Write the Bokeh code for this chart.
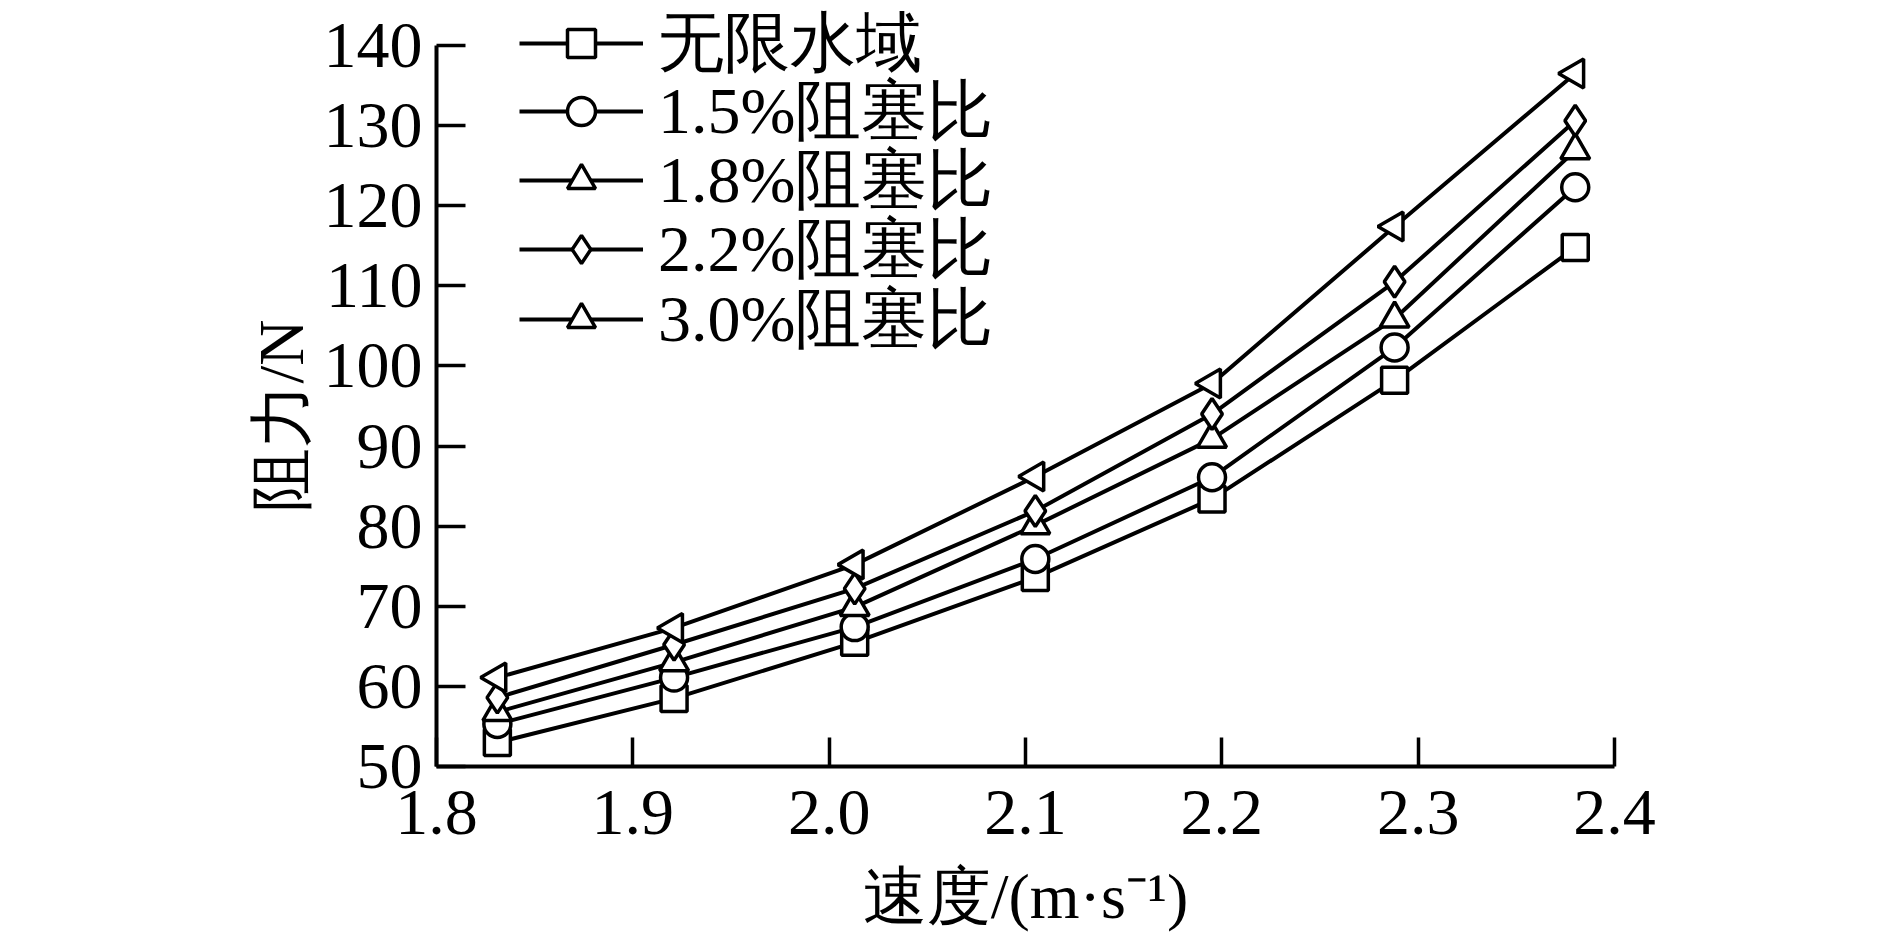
import math
from bokeh.plotting import figure
from bokeh.models import FixedTicker, Legend, LegendItem, Range1d
from bokeh.embed import file_html
from bokeh.resources import INLINE

# ---- data ----
speed = [1.831, 1.921, 2.013, 2.105, 2.195, 2.288, 2.380]
series_names = ["无限水域", "1.5%阻塞比", "1.8%阻塞比", "2.2%阻塞比", "3.0%阻塞比"]
unlimited = [53.0, 58.5, 65.5, 73.6, 83.4, 98.2, 114.8]
block_15 = [55.3, 61.1, 67.4, 75.9, 86.1, 102.3, 122.3]
block_18 = [56.8, 63.0, 69.9, 80.1, 90.9, 105.9, 126.9]
block_22 = [58.6, 65.2, 72.2, 81.9, 94.0, 110.5, 130.6]
block_30 = [61.1, 67.3, 75.2, 86.2, 97.8, 117.4, 136.5]
x_ticks = [1.8, 1.9, 2.0, 2.1, 2.2, 2.3, 2.4]
x_tick_labels = ["1.8", "1.9", "2.0", "2.1", "2.2", "2.3", "2.4"]
y_ticks = [50, 60, 70, 80, 90, 100, 110, 120, 130, 140]
y_min, y_max = 50, 140

FONT = "Liberation Serif"

# layout geometry (page pixels)
FRAME_BOTTOM = 766
Y_TOP_PX = 45          # where the 140 tick sits
px_per_unit = (FRAME_BOTTOM - Y_TOP_PX) / (y_max - y_min)
y_range_top = y_max + Y_TOP_PX / px_per_unit   # frame reaches the top edge so the legend fits

p = figure(width=1889, height=939, output_backend="svg", toolbar_location=None,
           x_range=Range1d(1.8, 2.4), y_range=Range1d(y_min, y_range_top),
           min_border_left=436, min_border_right=275,
           min_border_top=0, min_border_bottom=939 - FRAME_BOTTOM)
p.outline_line_color = None
p.grid.visible = False
p.background_fill_color = "white"
p.border_fill_color = "white"

styles = [("square", 26, 0.0), ("circle", 27, 0.0), ("triangle", 29, 0.0),
          ("diamond", 31, 0.0), ("triangle", 29, math.pi / 2)]
all_series = [unlimited, block_15, block_18, block_22, block_30]

# one single-item legend per row, so that the row pitch matches the reference
row_centers = [40, 108, 177, 246, 316]   # page pixels of the legend rows
ITEM_HALF = 48                            # measured half height of a legend row
for name, ys, (mk, sz, ang), cy in zip(series_names, all_series, styles, row_centers):
    ln = p.line(speed, ys, line_color="black", line_width=4)
    sc = p.scatter(speed, ys, marker=mk, size=sz, angle=ang,
                   fill_color="white", line_color="black", line_width=3.5)
    leg = Legend(items=[LegendItem(label=name, renderers=[ln, sc])],
                 location=(83, FRAME_BOTTOM - cy - ITEM_HALF))
    leg.label_text_font = FONT
    leg.label_text_font_size = "66px"
    leg.label_text_color = "black"
    leg.glyph_width = 124
    leg.glyph_height = 70
    leg.label_height = 70
    leg.label_standoff = 15
    leg.spacing = 0
    leg.padding = 0
    leg.margin = 0
    leg.border_line_alpha = 0
    leg.background_fill_alpha = 0
    p.add_layout(leg)

for ax in (p.xaxis[0], p.yaxis[0]):
    ax.axis_line_width = 4
    ax.axis_line_color = "black"
    ax.major_tick_line_width = 3.5
    ax.major_tick_line_color = "black"
    ax.major_tick_in = 29
    ax.major_tick_out = 0
    ax.minor_tick_in = 0
    ax.minor_tick_out = 0
    ax.minor_tick_line_color = None
    ax.major_label_text_font = FONT
    ax.major_label_text_font_size = "66px"
    ax.major_label_text_color = "black"
    ax.axis_label_text_font = FONT
    ax.axis_label_text_font_size = "64px"
    ax.axis_label_text_font_style = "normal"
    ax.axis_label_text_color = "black"

p.xaxis[0].ticker = FixedTicker(ticks=x_ticks)
p.xaxis[0].major_label_overrides = dict(zip(x_ticks, x_tick_labels))
p.xaxis[0].major_label_standoff = 24
p.xaxis[0].axis_label = "速度/(m·s⁻¹)"
p.xaxis[0].axis_label_standoff = 24

p.yaxis[0].ticker = FixedTicker(ticks=y_ticks)
p.yaxis[0].bounds = (y_min, y_max)
p.yaxis[0].major_label_standoff = 14
# trailing em space nudges the rotated title down, as in the reference
p.yaxis[0].axis_label = "阻力/N\u2003"
p.yaxis[0].axis_label_standoff = 4

open("out.html", "w").write(file_html(p, INLINE))
